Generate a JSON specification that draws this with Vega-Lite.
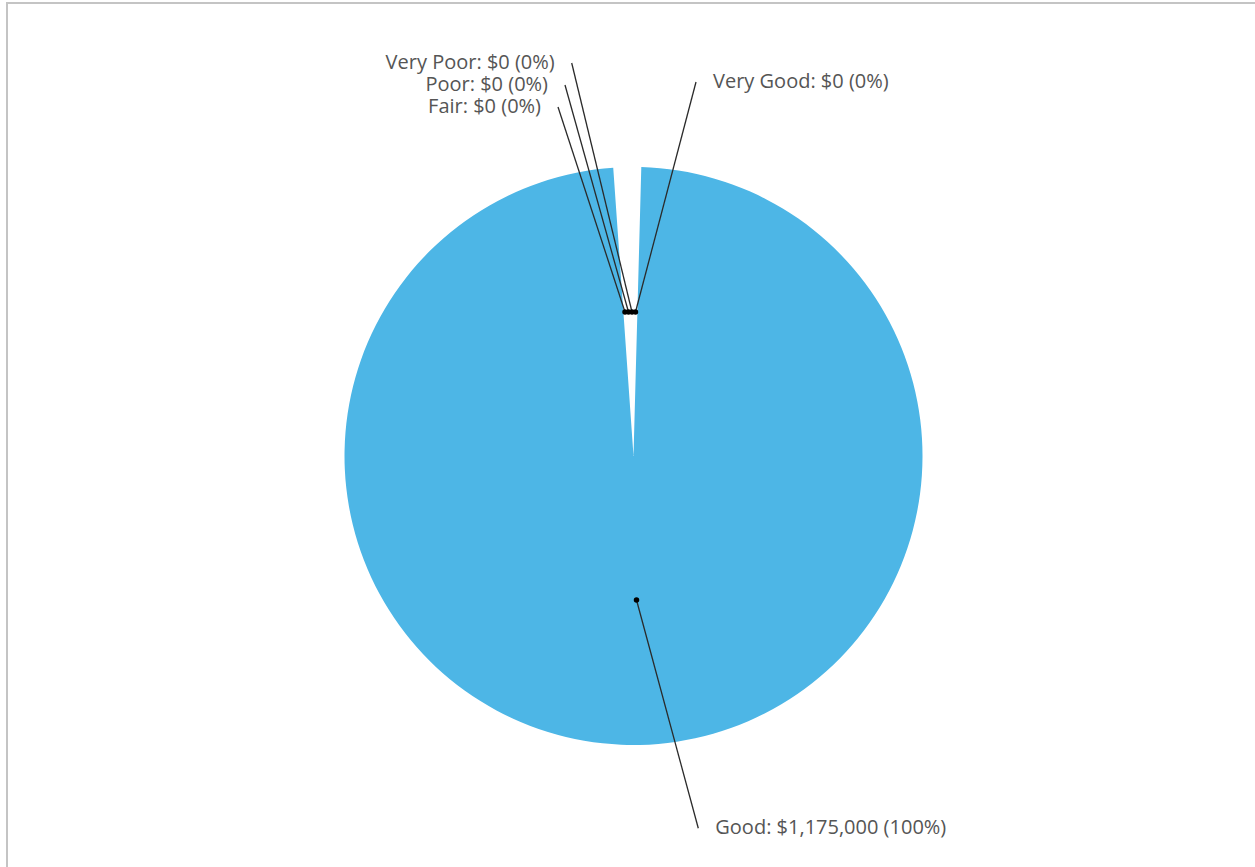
{
  "$schema": "https://vega.github.io/schema/vega-lite/v6.json",
  "width": 1255,
  "height": 867,
  "autosize": {"type": "fit", "contains": "padding"},
  "padding": {"left": 7, "top": 3, "right": -5, "bottom": -42},
  "background": "white",
  "config": {
    "view": {"stroke": "#c4c4c4", "strokeWidth": 2},
    "text": {"font": "Open Sans"}
  },
  "datasets": {
    "slices": [
      {"category": "Very Poor", "amount": 0},
      {"category": "Poor", "amount": 0},
      {"category": "Fair", "amount": 0},
      {"category": "Good", "amount": 1175000},
      {"category": "Very Good", "amount": 0}
    ],
    "callouts": [
      {"category": "Very Poor", "ax": -0.0052, "ay": 0.4983, "lx": -0.2138, "ly": 1.3599},
      {"category": "Poor", "ax": -0.0173, "ay": 0.4983, "lx": -0.2370, "ly": 1.2837},
      {"category": "Fair", "ax": -0.0294, "ay": 0.4983, "lx": -0.2612, "ly": 1.2076},
      {"category": "Good", "ax": 0.0104, "ay": -0.4983, "lx": 0.2242, "ly": -1.2882},
      {"category": "Very Good", "ax": 0.0069, "ay": 0.4983, "lx": 0.2163, "ly": 1.2941}
    ]
  },
  "layer": [
    {
      "data": {"name": "slices"},
      "mark": {"type": "arc", "radius": 289, "fill": "#4db6e6"},
      "encoding": {
        "theta": {"field": "amount", "type": "quantitative", "stack": true, "scale": {"range": [0.027, 6.213]}},
        "order": {"field": "amount", "sort": "descending"}
      }
    },
    {
      "data": {"name": "callouts"},
      "mark": {"type": "rule", "color": "#2a2a2a", "strokeWidth": 1.3},
      "encoding": {
        "x": {"field": "ax", "type": "quantitative", "scale": {"domain": [-2.1678, 2.1678], "nice": false, "zero": false}, "axis": null},
        "y": {"field": "ay", "type": "quantitative", "scale": {"domain": [-1.5675, 1.5675], "nice": false, "zero": false}, "axis": null},
        "x2": {"field": "lx"},
        "y2": {"field": "ly"}
      }
    },
    {
      "data": {"name": "callouts"},
      "mark": {"type": "point", "filled": true, "color": "#000000", "size": 30, "opacity": 1},
      "encoding": {
        "x": {"field": "ax", "type": "quantitative"},
        "y": {"field": "ay", "type": "quantitative"}
      }
    },
    {
      "data": {"name": "callouts"},
      "transform": [
        {"lookup": "category", "from": {"data": {"name": "slices"}, "key": "category", "fields": ["amount"]}},
        {"joinaggregate": [{"op": "sum", "field": "amount", "as": "total"}]},
        {"calculate": "datum.category + ': ' + format(datum.amount, '$,') + ' (' + format(datum.amount / datum.total, '.0%') + ')'", "as": "label"},
        {"filter": {"field": "category", "oneOf": ["Good", "Very Good"]}}
      ],
      "mark": {"type": "text", "align": "left", "baseline": "middle", "dx": 17, "fontSize": 20, "color": "#555555"},
      "encoding": {
        "x": {"field": "lx", "type": "quantitative"},
        "y": {"field": "ly", "type": "quantitative"},
        "text": {"field": "label"}
      }
    },
    {
      "data": {"name": "callouts"},
      "transform": [
        {"lookup": "category", "from": {"data": {"name": "slices"}, "key": "category", "fields": ["amount"]}},
        {"joinaggregate": [{"op": "sum", "field": "amount", "as": "total"}]},
        {"calculate": "datum.category + ': ' + format(datum.amount, '$,') + ' (' + format(datum.amount / datum.total, '.0%') + ')'", "as": "label"},
        {"filter": {"field": "category", "oneOf": ["Very Poor", "Poor", "Fair"]}}
      ],
      "mark": {"type": "text", "align": "right", "baseline": "middle", "dx": -17, "fontSize": 20, "color": "#555555"},
      "encoding": {
        "x": {"field": "lx", "type": "quantitative"},
        "y": {"field": "ly", "type": "quantitative"},
        "text": {"field": "label"}
      }
    }
  ]
}
